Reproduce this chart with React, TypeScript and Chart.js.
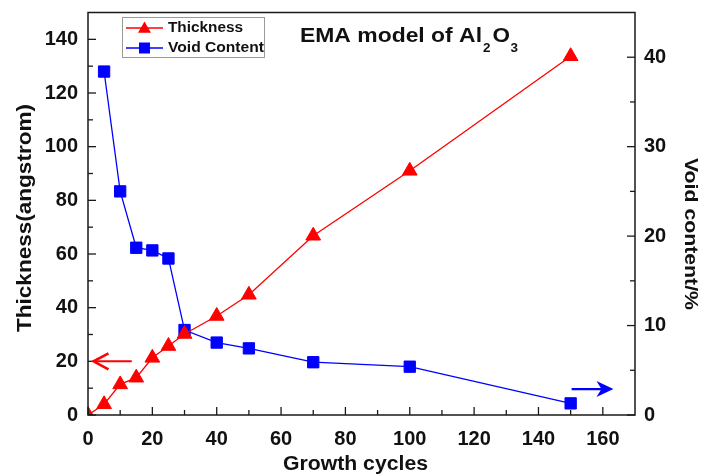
import React, { useEffect, useRef } from 'react';
import { Chart, registerables } from 'chart.js';

Chart.register(...registerables);

// ---- data ----
const CYCLES_THICKNESS = [0, 5, 10, 15, 20, 25, 30, 40, 50, 70, 100, 150];
const THICKNESS = [0, 4, 11.4, 13.9, 21.3, 25.7, 30.2, 36.9, 44.8, 66.8, 91, 133.7];
const CYCLES_VOID = [5, 10, 15, 20, 25, 30, 40, 50, 70, 100, 150];
const VOID_CONTENT = [38.4, 25.0, 18.7, 18.4, 17.5, 9.5, 8.1, 7.45, 5.9, 5.4, 1.3];

const X_TICKS = [0, 20, 40, 60, 80, 100, 120, 140, 160];
const X_MINOR = [10, 30, 50, 70, 90, 110, 130, 150];
const LEFT_TICKS = [0, 20, 40, 60, 80, 100, 120, 140];
const LEFT_MINOR = [10, 30, 50, 70, 90, 110, 130];
const RIGHT_TICKS = [0, 10, 20, 30, 40];
const RIGHT_MINOR = [5, 15, 25, 35];

// arrows: [x tail, x tip] at a y value on their own axis
const ARROW_THICKNESS_X = [13.6, 1.7];
const ARROW_THICKNESS_Y = 20;
const ARROW_VOID_X = [150.3, 163.3];
const ARROW_VOID_Y = 2.9;

const FONT = '"Liberation Sans", Arial, sans-serif';
const RED = '#ff0000';
const BLUE = '#0000ff';

function fitText(ctx: CanvasRenderingContext2D, text: string, x: number, y: number, size: number, width: number, align: CanvasTextAlign, baseline: CanvasTextBaseline, rot = 0) {
  ctx.save();
  ctx.font = `bold ${size}px ${FONT}`;
  const w = ctx.measureText(text).width;
  ctx.translate(x, y);
  ctx.rotate(rot);
  ctx.scale(width / w, 1);
  ctx.textAlign = align;
  ctx.textBaseline = baseline;
  ctx.fillStyle = '#111';
  ctx.fillText(text, 0, 0);
  ctx.restore();
}

const decor = {
  id: 'decor',
  afterDraw(chart: any) {
    const ctx: CanvasRenderingContext2D = chart.ctx;
    const { left, right, top, bottom } = chart.chartArea;
    const sx = chart.scales.x, sy = chart.scales.y, sy2 = chart.scales.y2;

    // frame
    ctx.save();
    ctx.strokeStyle = '#1a1a1a';
    ctx.lineWidth = 1.5;
    ctx.strokeRect(left, top, right - left, bottom - top);

    // inward ticks
    ctx.lineWidth = 1.3;
    const tick = (x1: number, y1: number, x2: number, y2: number) => {
      ctx.beginPath(); ctx.moveTo(x1, y1); ctx.lineTo(x2, y2); ctx.stroke();
    };
    X_TICKS.forEach(v => { const p = sx.getPixelForValue(v); tick(p, bottom, p, bottom - 8); });
    X_MINOR.forEach(v => { const p = sx.getPixelForValue(v); tick(p, bottom, p, bottom - 5); });
    LEFT_TICKS.forEach(v => { const p = sy.getPixelForValue(v); tick(left, p, left + 8, p); });
    LEFT_MINOR.forEach(v => { const p = sy.getPixelForValue(v); tick(left, p, left + 5, p); });
    RIGHT_TICKS.forEach(v => { const p = sy2.getPixelForValue(v); tick(right, p, right - 8, p); });
    RIGHT_MINOR.forEach(v => { const p = sy2.getPixelForValue(v); tick(right, p, right - 5, p); });

    // arrows
    const ry = sy.getPixelForValue(ARROW_THICKNESS_Y);
    const rx0 = sx.getPixelForValue(ARROW_THICKNESS_X[0]);
    const rx1 = sx.getPixelForValue(ARROW_THICKNESS_X[1]);
    ctx.strokeStyle = RED;
    ctx.lineWidth = 2;
    tick(rx0, ry, rx1 + 1, ry);
    ctx.lineWidth = 2.5;
    ctx.beginPath();
    ctx.moveTo(rx1 + 15, ry - 8);
    ctx.lineTo(rx1, ry);
    ctx.lineTo(rx1 + 15, ry + 8);
    ctx.stroke();

    const by = sy2.getPixelForValue(ARROW_VOID_Y);
    const bx0 = sx.getPixelForValue(ARROW_VOID_X[0]);
    const bx1 = sx.getPixelForValue(ARROW_VOID_X[1]);
    ctx.strokeStyle = BLUE;
    ctx.fillStyle = BLUE;
    ctx.lineWidth = 2.2;
    tick(bx0, by, bx1 - 6, by);
    ctx.beginPath();
    ctx.moveTo(bx1, by);
    ctx.lineTo(bx1 - 17, by - 8);
    ctx.lineTo(bx1 - 12, by);
    ctx.lineTo(bx1 - 17, by + 8);
    ctx.closePath();
    ctx.fill();

    // legend
    ctx.lineWidth = 1;
    ctx.strokeStyle = '#9a9a9a';
    ctx.strokeRect(122.5, 17.5, 142, 40);
    ctx.lineWidth = 1.5;
    ctx.strokeStyle = RED;
    tick(126, 28, 163, 28);
    ctx.fillStyle = RED;
    ctx.beginPath();
    const tr = 7.5, tcy = 29;
    ctx.moveTo(144.5, tcy - tr);
    ctx.lineTo(144.5 + tr * 0.866, tcy + tr / 2);
    ctx.lineTo(144.5 - tr * 0.866, tcy + tr / 2);
    ctx.closePath();
    ctx.fill();
    ctx.strokeStyle = BLUE;
    tick(126, 48, 163, 48);
    ctx.fillStyle = BLUE;
    ctx.fillRect(139, 42.5, 11, 11);
    ctx.restore();

    fitText(ctx, 'Thickness', 168, 28.5, 14, 75, 'left', 'middle');
    fitText(ctx, 'Void Content', 168, 48.5, 14, 96, 'left', 'middle');

    // title
    fitText(ctx, 'EMA model of Al', 300, 42, 21, 182, 'left', 'alphabetic');
    fitText(ctx, '2', 483, 52, 13, 7.5, 'left', 'alphabetic');
    fitText(ctx, 'O', 492.5, 42, 21, 17.5, 'left', 'alphabetic');
    fitText(ctx, '3', 510.5, 52, 13, 7.5, 'left', 'alphabetic');

    // axis titles
    fitText(ctx, 'Thickness(angstrom)', 25, 218, 20, 228, 'center', 'middle', -Math.PI / 2);
    fitText(ctx, 'Void content/%', 690, 234, 18, 152, 'center', 'middle', Math.PI / 2);
    fitText(ctx, 'Growth cycles', 355.5, 464, 20, 145, 'center', 'middle');
  },
};

export default function App() {
  const ref = useRef<HTMLCanvasElement>(null);
  useEffect(() => {
    const tickFont = { family: FONT, size: 20, weight: 'bold' as const };
    const chart = new Chart(ref.current!, {
      type: 'line',
      data: {
        datasets: [
          {
            label: 'Thickness',
            data: CYCLES_THICKNESS.map((x, i) => ({ x, y: THICKNESS[i] })),
            yAxisID: 'y',
            borderColor: RED,
            backgroundColor: RED,
            borderWidth: 1.3,
            pointStyle: 'triangle',
            pointRadius: 8.5,
            pointBorderWidth: 1,
            clip: 0,
          },
          {
            label: 'Void Content',
            data: CYCLES_VOID.map((x, i) => ({ x, y: VOID_CONTENT[i] })),
            yAxisID: 'y2',
            borderColor: BLUE,
            backgroundColor: BLUE,
            borderWidth: 1.3,
            pointStyle: 'rect',
            pointRadius: 8,
            pointBorderWidth: 1,
            clip: 0,
          },
        ],
      },
      options: {
        animation: false,
        responsive: false,
        layout: { padding: { top: 0, left: 0, right: 0, bottom: 0 } },
        plugins: { legend: { display: false }, tooltip: { enabled: false } },
        scales: {
          x: {
            type: 'linear', min: 0, max: 170, position: 'bottom',
            grid: { display: false, drawTicks: false }, border: { display: false },
            ticks: { font: tickFont, color: '#111', padding: 12, maxRotation: 0, autoSkip: false },
            afterBuildTicks: (s: any) => { s.ticks = X_TICKS.map(v => ({ value: v })); },
            afterFit: (s: any) => { s.height = 60; },
          },
          y: {
            type: 'linear', min: 0, max: 150, position: 'left',
            grid: { display: false, drawTicks: false }, border: { display: false },
            ticks: { font: tickFont, color: '#111', padding: 10, autoSkip: false },
            afterBuildTicks: (s: any) => { s.ticks = LEFT_TICKS.map(v => ({ value: v })); },
            afterFit: (s: any) => { s.width = 88; s.paddingTop = 12.5; },
          },
          y2: {
            type: 'linear', min: 0, max: 45, position: 'right',
            grid: { display: false, drawTicks: false }, border: { display: false },
            ticks: { font: tickFont, color: '#111', padding: 9, autoSkip: false },
            afterBuildTicks: (s: any) => { s.ticks = RIGHT_TICKS.map(v => ({ value: v })); },
            afterFit: (s: any) => { s.width = 67; s.paddingTop = 12.5; },
          },
        },
      } as any,
      plugins: [decor],
    });
    return () => chart.destroy();
  }, []);
  return (
    <div style={{ position: 'fixed', left: 0, top: 0, width: 702, height: 475, background: '#fff' }}>
      <canvas ref={ref} width={702} height={475} style={{ display: 'block' }} />
    </div>
  );
}
